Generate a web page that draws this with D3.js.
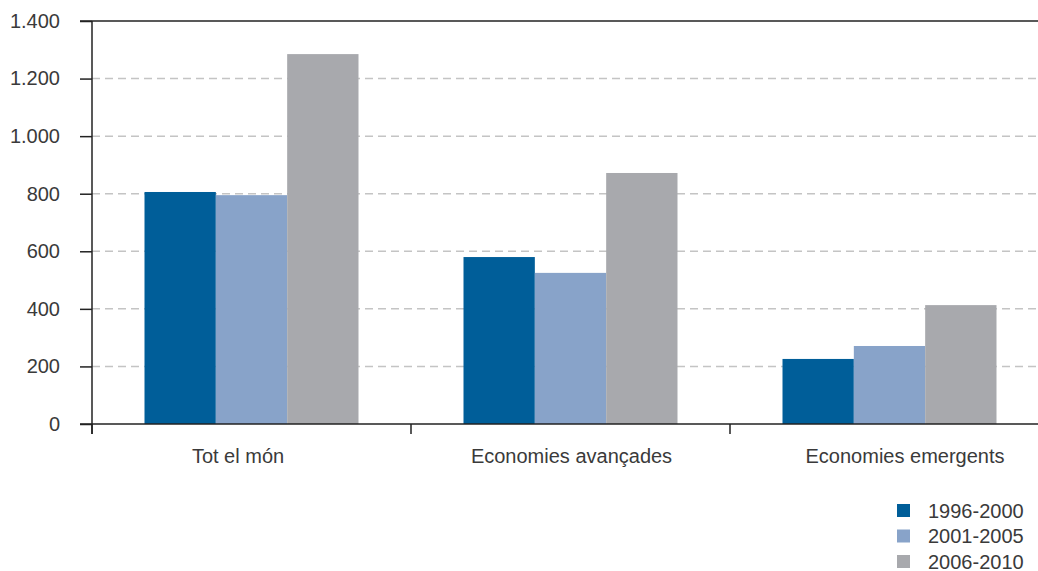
<!DOCTYPE html>
<html><head><meta charset="utf-8">
<script src="https://cdn.jsdelivr.net/npm/d3@7"></script>
<style>body{margin:0;background:#fff}svg{display:block}text{font-family:"Liberation Sans",Arial,sans-serif}</style>
</head><body><svg id="c" width="1038" height="571"></svg>
<script>
const categories = ["Tot el món", "Economies avançades", "Economies emergents"];
const seriesNames = ["1996-2000", "2001-2005", "2006-2010"];
const s1996 = [806, 580, 226];
const s2001 = [795, 525, 271];
const s2006 = [1285, 872, 413];
const yTicks = [0, 200, 400, 600, 800, 1000, 1200, 1400];
const colors = ["#005e99", "#88a3c9", "#a8a9ad"];

const values = [s1996, s2001, s2006];
const svg = d3.select("#c");
const x = d3.scaleBand().domain(categories).range([92, 1049]).paddingInner(0).paddingOuter(0);
const xi = d3.scaleBand().domain(seriesNames).range([52.5, x.bandwidth() - 52.5]).paddingInner(0);
const xLabel = d3.scalePoint().domain(categories).range([237.5, 904.5]);
const y = d3.scaleLinear().domain([0, 1400]).range([424, 21]);
const FS = 20, TXT = "#3a3a3a";

// grid
svg.append("g").selectAll("line").data(yTicks.filter(t => t > 0 && t < 1400)).join("line")
  .attr("x1", 92).attr("x2", 1038).attr("y1", d => y(d)).attr("y2", d => y(d))
  .attr("stroke", "#c4c4c4").attr("stroke-width", 1.5).attr("stroke-dasharray", "8,5");

// bars
categories.forEach((c, ci) => {
  seriesNames.forEach((s, si) => {
    const v = values[si][ci];
    svg.append("rect").attr("x", x(c) + xi(s)).attr("width", xi.bandwidth())
      .attr("y", y(v)).attr("height", y(0) - y(v)).attr("fill", colors[si]);
  });
});

// top line
svg.append("line").attr("x1", 80).attr("x2", 1038).attr("y1", y(1400)).attr("y2", y(1400)).attr("stroke", "#222").attr("stroke-width", 1.5);

// y axis
const ya = svg.append("g").attr("transform", "translate(92,0)")
  .call(d3.axisLeft(y).tickValues(yTicks).tickSize(12).tickPadding(20)
    .tickFormat(d => d3.format(",")(d).replace(/,/g, ".")));
ya.select(".domain").attr("stroke", "#222").attr("stroke-width", 1.5).attr("d", "M0,21V434");
ya.selectAll(".tick line").attr("stroke", "#222").attr("stroke-width", 1.5);
ya.selectAll(".tick text").attr("font-size", FS).attr("fill", TXT).attr("x", -32);

// x axis
const xa = svg.append("g").attr("transform", "translate(0,424)")
  .call(d3.axisBottom(xLabel).tickSize(0).tickPadding(25));
xa.select(".domain").remove();
xa.append("line").attr("x1", 80).attr("x2", 1038).attr("stroke", "#222").attr("stroke-width", 1.5);
xa.selectAll(".tick text").attr("font-size", FS).attr("fill", TXT);
svg.append("g").selectAll("line").data(categories).join("line")
  .attr("x1", d => x(d)).attr("x2", d => x(d)).attr("y1", 424).attr("y2", 434)
  .attr("stroke", "#222").attr("stroke-width", 1.5);

// legend
const lg = svg.append("g").selectAll("g").data(seriesNames).join("g")
  .attr("transform", (d, i) => `translate(897,${510 + i * 25.5})`);
lg.append("rect").attr("x", 0).attr("y", -6).attr("width", 13).attr("height", 13).attr("fill", (d, i) => colors[i]);
lg.append("text").attr("x", 31).attr("y", 7.5).attr("font-size", FS).attr("fill", TXT).text(d => d);
</script></body></html>
